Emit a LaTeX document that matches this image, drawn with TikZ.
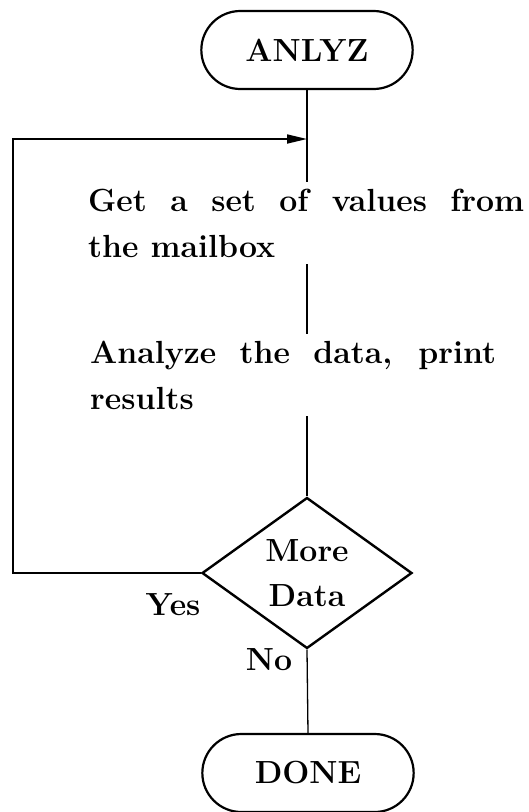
\documentclass[tikz,border=0pt]{standalone}
\usepackage{fontspec}
\usetikzlibrary{shapes.geometric,shapes.misc,arrows.meta}

\begin{document}
\begin{tikzpicture}[x=1pt,y=-1pt,font=\fontsize{32}{45.5}\selectfont\bfseries]
  \tikzset{term/.style={draw,rounded rectangle,line width=2.2pt,minimum width=218pt,minimum height=78pt},
           step text/.style={anchor=north west,inner xsep=0pt,inner ysep=7pt,align=justify},
           decision/.style={draw,diamond,line width=2.4pt,minimum width=210pt,minimum height=135pt,inner sep=0pt,align=center},
           flow/.style={line width=1.3pt}}
  \useasboundingbox (0,0) rectangle (528,812);

  \node [term] (anlyz) at (307,50) {ANLYZ};
  \node [step text,text width=436pt] (get) at (88,182) {Get a set of values from\linebreak the mailbox};
  \node [step text,text width=406pt] (analyze) at (90,334) {Analyze the data, print\linebreak results};
  \node [decision] (more) at (307,573) {More\\Data};
  \node (yes) at (173,605) {Yes};
  \node (no) at (269,660) {No};
  \node [term] (done) at (308,773) {DONE};
  \coordinate (loop) at (13,139);
  \coordinate (join) at (anlyz.south |- loop);

  \draw [flow] (anlyz.south) -- (anlyz.south |- get.north);
  \draw [flow] (anlyz.south |- get.south) -- (anlyz.south |- analyze.north);
  \draw [flow] (anlyz.south |- analyze.south) -- (more.north);
  \draw [flow] (more.south) -- (done.north);
  \draw [flow,line width=1.7pt,-{Triangle[length=20pt,width=9pt]}] (more.west) -| (loop) -- (join);
\end{tikzpicture}
\end{document}
